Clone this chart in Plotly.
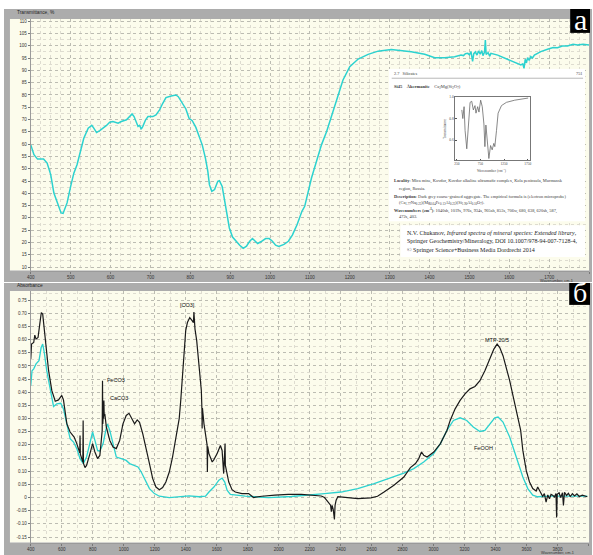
import plotly.graph_objects as go

W, H = 593, 555


def fx(p):
    return p / W


def fy(p):
    return 1 - p / H


# ---------------- panel a: transmittance of the sample, 400-1800 cm-1 ----------------
wn_a = [400, 408, 417, 432, 441, 450, 458, 466, 476, 481, 491, 500, 508, 516, 525, 533,
        544, 553, 558, 565, 573, 582, 590, 598, 606, 619, 627, 640, 648, 654, 659, 665,
        669, 673, 677, 681, 688, 694, 706, 714, 723, 731, 739, 752, 764, 770, 781, 789,
        797, 805, 814, 822, 830, 838, 844, 848, 854, 861, 869, 873, 880, 885, 892, 898,
        906, 915, 924, 933, 941, 949, 956, 963, 969, 977, 989, 998, 1006, 1014, 1022,
        1035, 1046, 1056, 1068, 1080, 1087, 1104, 1117, 1129, 1142, 1150, 1167, 1183,
        1200, 1221, 1246, 1271, 1304, 1329, 1354, 1388, 1413, 1438, 1463, 1479, 1485,
        1490, 1496, 1500, 1504, 1508, 1511, 1515, 1519, 1523, 1527, 1531, 1534, 1538,
        1540, 1542, 1547, 1551, 1554, 1571, 1596, 1613, 1629, 1634, 1637, 1640, 1643,
        1646, 1650, 1654, 1658, 1663, 1679, 1696, 1710, 1721, 1733, 1746, 1760, 1771,
        1785, 1800]
tr_a = [59.7, 55.7, 53.9, 53.9, 52.3, 47.6, 40.1, 36.1, 32.0, 31.8, 36.1, 42.8, 48.2,
        51.6, 57.0, 62.4, 66.5, 67.6, 66.5, 64.7, 65.5, 66.5, 67.6, 68.9, 69.2, 68.5,
        69.2, 69.9, 71.1, 72.3, 71.2, 68.5, 67.2, 67.6, 66.1, 67.2, 69.9, 71.2, 71.2,
        71.9, 73.9, 76.6, 78.9, 79.6, 80.0, 79.3, 76.6, 74.3, 70.5, 69.5, 66.8, 63.0,
        59.7, 54.3, 48.9, 43.5, 40.8, 41.5, 44.9, 45.1, 42.8, 38.1, 31.4, 25.9, 22.2,
        20.5, 18.9, 17.6, 18.5, 20.5, 21.6, 20.5, 19.6, 20.3, 21.6, 21.6, 20.5, 18.9,
        18.4, 19.2, 20.5, 23.0, 27.3, 32.7, 34.7, 46.2, 53.0, 59.7, 65.1, 69.2, 78.0,
        86.1, 91.5, 94.6, 96.5, 97.8, 98.5, 98.2, 97.6, 96.5, 95.1, 95.1, 95.5, 96.2,
        96.0, 96.8, 96.9, 96.3, 97.6, 93.6, 96.8, 97.5, 96.2, 97.9, 96.6, 98.0, 96.0,
        97.4, 102.3, 96.5, 97.2, 95.8, 96.9, 96.2, 94.6, 93.2, 92.2, 92.6, 90.8, 94.5,
        93.0, 95.2, 94.0, 95.6, 95.0, 96.2, 97.6, 98.6, 99.3, 99.2, 99.9, 99.9, 100.6,
        100.3, 100.6, 100.3]
ticks_a_x = list(range(400, 1801, 100))
ticks_a_y = list(range(10, 111, 5))

# ---------------- reference card inset: akermanite spectrum ----------------
wn_ak = [355, 376, 403, 424, 460, 494, 530, 565, 599, 634, 655, 691, 718, 754, 788, 823,
         844, 865, 893, 928, 964, 998, 1033, 1054, 1090, 1124, 1195, 1300, 1474, 1684, 1760]
tr_ak = [0.88, 0.80, 0.91, 0.69, 0.52, 0.75, 0.95, 0.96, 0.88, 0.92, 0.85, 0.91, 0.86,
         0.97, 0.91, 0.75, 0.54, 0.74, 0.57, 0.43, 0.55, 0.51, 0.57, 0.54, 0.69, 0.85,
         0.92, 0.95, 0.97, 0.985, 0.99]
ticks_ak_x = [250, 750, 1250, 1750]
ticks_ak_y = [0.6, 0.8, 1.0]
ticks_ak_y_text = ["0.6", "0.8", "1.0"]

# ---------------- panel б: absorbance, 400-4000 cm-1 ----------------
wn_mtp = [400, 402, 405, 419, 426, 434, 447, 458, 468, 477, 487, 500, 515, 536, 558, 579,
          600, 611, 620, 633, 654, 664, 680, 697, 716, 718, 720, 736, 738, 740, 750, 760,
          782, 799, 814, 831, 846, 857, 861, 863, 865, 867, 870, 872, 874, 878, 888, 910,
          931, 952, 974, 995, 1016, 1034, 1048, 1070, 1087, 1102, 1123, 1144, 1166, 1187,
          1208, 1230, 1251, 1272, 1294, 1315, 1336, 1358, 1368, 1379, 1390, 1400, 1411,
          1426, 1439, 1450, 1453, 1456, 1460, 1471, 1486, 1501, 1505, 1506, 1508, 1518,
          1533, 1538, 1540, 1542, 1550, 1571, 1582, 1603, 1624, 1635, 1645, 1648, 1654,
          1656, 1678, 1699, 1720, 1763, 1806, 1838, 1891, 1976, 2062, 2147, 2211, 2275,
          2296, 2318, 2335, 2340, 2345, 2352, 2357, 2360, 2364, 2371, 2382, 2424, 2510,
          2595, 2638, 2680, 2744, 2808, 2840, 2850, 2883, 2904, 2922, 2936, 2958, 3001,
          3044, 3086, 3107, 3139, 3171, 3203, 3235, 3267, 3299, 3331, 3363, 3389, 3410,
          3427, 3448, 3470, 3491, 3512, 3540, 3562, 3576, 3598, 3619, 3640, 3662, 3672,
          3683, 3694, 3704, 3715, 3726, 3737, 3748, 3758, 3768, 3780, 3790, 3794, 3798,
          3810, 3820, 3832, 3838, 3845, 3858, 3870, 3882, 3896, 3910, 3925, 3940, 3960,
          3975, 3992]
ab_mtp = [0.527, 0.564, 0.583, 0.589, 0.617, 0.602, 0.608, 0.659, 0.703, 0.697, 0.646,
          0.570, 0.482, 0.406, 0.366, 0.371, 0.388, 0.371, 0.331, 0.280, 0.249, 0.242,
          0.230, 0.205, 0.170, 0.236, 0.165, 0.135, 0.293, 0.130, 0.114, 0.122, 0.167,
          0.205, 0.173, 0.148, 0.160, 0.230, 0.255, 0.444, 0.280, 0.305, 0.300, 0.369,
          0.310, 0.318, 0.267, 0.217, 0.192, 0.186, 0.217, 0.280, 0.312, 0.320, 0.305,
          0.280, 0.295, 0.286, 0.242, 0.192, 0.129, 0.072, 0.040, 0.030, 0.038, 0.059,
          0.097, 0.154, 0.230, 0.300, 0.369, 0.457, 0.570, 0.634, 0.665, 0.684, 0.674,
          0.665, 0.705, 0.660, 0.640, 0.596, 0.508, 0.406, 0.330, 0.262, 0.340, 0.280,
          0.217, 0.200, 0.097, 0.195, 0.167, 0.135, 0.144, 0.167, 0.198, 0.179, 0.091,
          0.170, 0.205, 0.122, 0.059, 0.030, 0.021, 0.015, 0.015, 0.000, 0.005, 0.009,
          0.012, 0.012, 0.009, 0.006, 0.000, -0.017, -0.029, -0.054, -0.030, -0.045,
          -0.060, -0.083, -0.030, -0.010, 0.003, 0.000, -0.004, -0.001, 0.005, 0.021,
          0.047, 0.078, 0.104, 0.114, 0.129, 0.148, 0.173, 0.161, 0.154, 0.173, 0.205,
          0.255, 0.293, 0.337, 0.369, 0.394, 0.413, 0.422, 0.444, 0.482, 0.527, 0.564,
          0.583, 0.570, 0.539, 0.495, 0.444, 0.388, 0.320, 0.255, 0.179, 0.103, 0.059,
          0.034, 0.025, 0.040, 0.028, 0.012, 0.005, 0.015, -0.017, 0.010, -0.005, 0.012,
          0.009, 0.002, 0.015, -0.076, 0.012, 0.018, 0.000, 0.018, -0.030, 0.020, 0.008,
          0.016, 0.004, 0.015, 0.006, 0.014, 0.004, 0.009, 0.005, 0.003]

wn_feooh = [400, 408, 419, 434, 453, 467, 477, 487, 503, 525, 547, 568, 594, 611, 633,
            654, 676, 697, 718, 739, 760, 782, 799, 814, 831, 846, 867, 884, 895, 910,
            931, 952, 984, 1016, 1038, 1070, 1092, 1113, 1134, 1166, 1198, 1230, 1294,
            1358, 1422, 1486, 1528, 1550, 1582, 1614, 1635, 1652, 1667, 1688, 1720, 1784,
            1848, 1934, 2083, 2211, 2296, 2403, 2510, 2616, 2723, 2808, 2872, 2936, 3001,
            3044, 3086, 3128, 3171, 3214, 3256, 3299, 3331, 3363, 3395, 3416, 3448, 3491,
            3534, 3576, 3608, 3640, 3672, 3747, 3896, 3992]
ab_feooh = [0.425, 0.482, 0.489, 0.508, 0.520, 0.570, 0.583, 0.552, 0.482, 0.406, 0.346,
            0.356, 0.358, 0.337, 0.274, 0.224, 0.211, 0.186, 0.148, 0.129, 0.154, 0.211,
            0.249, 0.217, 0.179, 0.176, 0.205, 0.255, 0.280, 0.255, 0.198, 0.154, 0.148,
            0.141, 0.129, 0.122, 0.116, 0.097, 0.072, 0.034, 0.015, 0.005, 0.000, 0.003,
            0.006, 0.003, 0.005, 0.021, 0.040, 0.066, 0.074, 0.059, 0.028, 0.012, 0.009,
            0.005, 0.003, 0.000, 0.004, 0.009, 0.015, 0.021, 0.034, 0.053, 0.076, 0.093,
            0.110, 0.135, 0.167, 0.205, 0.255, 0.293, 0.303, 0.293, 0.268, 0.251, 0.255,
            0.280, 0.303, 0.306, 0.287, 0.230, 0.154, 0.078, 0.034, 0.009, 0.003, 0.005,
            0.005, 0.005]
ticks_b_x = list(range(400, 4001, 200))
ticks_b_y = [round(-0.15 + 0.05 * i, 2) for i in range(19)]
ticks_b_y_text = ["0" if v == 0 else f"{v:.2f}" for v in ticks_b_y]

# peak labels (wavenumber, absorbance, text, anchor)
peak_labels = [(1411, 0.732, "[CO3]", "center"),
               (878, 0.447, "FeCO3", "left"),
               (899, 0.377, "CaCO3", "left"),
               (3406, 0.598, "MTP-20/5", "center"),
               (3320, 0.188, "FeOOH", "center")]

CYAN = "#2cd2cf"
CREAM = "#fcfcec"
GRAY = "#acacac"
MAJOR = "#bcbcb2"
MINOR = "#dedcd0"
SANS = "Liberation Sans, Arial, sans-serif"
SERIF = "Liberation Serif, Times New Roman, serif"

fig = go.Figure()

fig.add_trace(go.Scatter(x=wn_a, y=tr_a, mode="lines", xaxis="x", yaxis="y",
                         line=dict(color=CYAN, width=1.5), hoverinfo="skip"))
fig.add_trace(go.Scatter(x=wn_feooh, y=ab_feooh, mode="lines", xaxis="x2", yaxis="y2",
                         line=dict(color=CYAN, width=1.3), hoverinfo="skip"))
fig.add_trace(go.Scatter(x=wn_mtp, y=ab_mtp, mode="lines", xaxis="x2", yaxis="y2",
                         line=dict(color="#1a1a1a", width=1.2), hoverinfo="skip"))

# white card behind the reference-library excerpt (drawn in its own subplot so it
# sits above panel a's grid)
fig.add_trace(go.Scatter(x=[0, 1, 1, 0, 0], y=[0.19, 0.19, 1, 1, 0.19], mode="lines",
                         fill="toself", fillcolor="white", line=dict(width=0),
                         xaxis="x3", yaxis="y3", hoverinfo="skip"))
fig.add_trace(go.Scatter(x=[0.06, 1, 1, 0.06, 0.06], y=[0, 0, 0.169, 0.169, 0], mode="lines",
                         fill="toself", fillcolor="white", line=dict(width=0),
                         xaxis="x3", yaxis="y3", hoverinfo="skip"))
fig.add_trace(go.Scatter(x=wn_ak, y=tr_ak, mode="lines", xaxis="x4", yaxis="y4",
                         line=dict(color="#6a6a6a", width=0.8), hoverinfo="skip"))


def grid_axis(**kw):
    base = dict(showgrid=True, gridcolor=MAJOR, griddash="dot", gridwidth=1,
                zeroline=False, showline=True, linecolor="#9a9a9a", linewidth=1,
                ticks="outside", ticklen=2, tickcolor="#777", tickwidth=1,
                tickfont=dict(family=SANS, size=4.5, color="#333"), fixedrange=True)
    base.update(kw)
    return base


layout = dict(
    width=W, height=H, autosize=False, margin=dict(l=0, r=0, t=0, b=0),
    paper_bgcolor="white", plot_bgcolor="rgba(0,0,0,0)", showlegend=False,
    hovermode=False,
    xaxis=grid_axis(domain=[fx(27), fx(590)], range=[400, 1800], anchor="y",
                    tickmode="array", tickvals=ticks_a_x,
                    minor=dict(dtick=25, tick0=400, showgrid=True, gridcolor=MINOR,
                               griddash="dot", ticks="")),
    yaxis=grid_axis(domain=[fy(269.5), fy(17)], range=[8.6, 110.9], anchor="x",
                    tickmode="array", tickvals=ticks_a_y,
                    minor=dict(dtick=2.5, tick0=10, showgrid=True, gridcolor=MINOR,
                               griddash="dot", ticks="")),
    xaxis2=grid_axis(domain=[fx(27), fx(589.5)], range=[400, 4000], anchor="y2",
                     tickmode="array", tickvals=ticks_b_x,
                     minor=dict(dtick=100, tick0=400, showgrid=True, gridcolor=MINOR,
                                griddash="dot", ticks="")),
    yaxis2=grid_axis(domain=[fy(542.5), fy(290)], range=[-0.171, 0.785], anchor="x2",
                     tickmode="array", tickvals=ticks_b_y, ticktext=ticks_b_y_text,
                     minor=dict(dtick=0.025, tick0=0, showgrid=True, gridcolor=MINOR,
                                griddash="dot", ticks="")),
    xaxis3=dict(domain=[fx(388), fx(586)], range=[0, 1], anchor="y3", visible=False,
                fixedrange=True),
    yaxis3=dict(domain=[fy(256), fy(67)], range=[0, 1], anchor="x3", visible=False,
                fixedrange=True),
    xaxis4=dict(domain=[fx(455), fx(530.5)], range=[214, 1800], anchor="y4",
                showgrid=False, zeroline=False, showline=True, mirror=True,
                linecolor="#555", linewidth=0.8, ticks="inside", ticklen=1.5,
                tickcolor="#555", tickmode="array", tickvals=ticks_ak_x,
                tickfont=dict(family=SERIF, size=3.5, color="#444"), fixedrange=True),
    yaxis4=dict(domain=[fy(158.7), fy(95.3)], range=[0.415, 1.0], anchor="x4",
                showgrid=False, zeroline=False, showline=True, mirror=True,
                linecolor="#555", linewidth=0.8, ticks="inside", ticklen=1.5,
                tickcolor="#555", tickmode="array", tickvals=ticks_ak_y,
                ticktext=ticks_ak_y_text,
                tickfont=dict(family=SERIF, size=3.5, color="#444"), fixedrange=True),
)

# frame: cream plot areas with grey window bands
def rect(x0, y0, x1, y1, color, layer="below"):
    return dict(type="rect", xref="paper", yref="paper", x0=fx(x0), x1=fx(x1),
                y0=fy(y1), y1=fy(y0), fillcolor=color, line=dict(width=0), layer=layer)


shapes = [
    rect(6, 17, 590, 269.5, CREAM),
    rect(6, 290, 590, 542.5, CREAM),
    rect(0, 7, 593, 17, GRAY),
    rect(0, 7, 6, 281, GRAY),
    rect(590, 7, 593, 281, GRAY),
    rect(0, 269.5, 593, 281, GRAY),
    rect(0, 282, 593, 290, GRAY),
    rect(0, 282, 6, 555, GRAY),
    rect(590, 282, 593, 555, GRAY),
    rect(0, 542.5, 593, 555, GRAY),
    rect(571, 7, 591, 31, "black", "above"),
    rect(570, 282, 591, 304, "black", "above"),
    dict(type="line", xref="paper", yref="paper", x0=fx(391), x1=fx(584),
         y0=fy(76.5), y1=fy(76.5), line=dict(color="#888", width=0.6), layer="above"),
]
layout["shapes"] = shapes

annotations = []


def note(text, x, y, size, family=SANS, color="#222", anchor="left", ref=("paper", "paper"),
         angle=0):
    xx, yy = (fx(x), fy(y)) if ref == ("paper", "paper") else (x, y)
    annotations.append(dict(text=text, x=xx, y=yy, xref=ref[0], yref=ref[1],
                            xanchor=anchor, yanchor="middle", showarrow=False,
                            textangle=angle,
                            font=dict(family=family, size=size, color=color)))


# window titles
note("Transmittance, %", 11, 11, 4.8)
note("Absorbance", 11, 285, 4.8)
note("Wavenumber, cm-1", 576, 280, 3.8, anchor="right", color="#333")
note("Wavenumber, cm-1", 577, 552.5, 3.8, anchor="right", color="#333")

# panel letters
note("a", 581, 17.5, 30, family=SERIF, color="white", anchor="center")
note("б", 580.5, 292, 28, family=SERIF, color="white", anchor="center")

# peak labels on panel б
for wn, ab, txt, anc in peak_labels:
    note(txt, wn, ab, 5.5, color="#111", anchor=anc, ref=("x2", "y2"))

# reference-library card
card = "#3a3a3a"
note("2.7&nbsp;&nbsp;&nbsp;Silicates", 391, 72, 4.3, SERIF, card)
note("751", 585, 72, 4.3, SERIF, card, anchor="right")
note("<b>Si45</b>&nbsp;&nbsp;&nbsp;&nbsp;<b>Åkermanite</b>&nbsp;&nbsp;&nbsp;&nbsp;"
     "Ca<sub>2</sub>Mg(Si<sub>2</sub>O<sub>7</sub>)", 391, 85.5, 4.5, SERIF, card)
note("Transmittance", 444, 127, 3.5, SERIF, "#444", anchor="center", angle=-90)
note("Wavenumber (cm<sup>-1</sup>)", 492.5, 169, 3.6, SERIF, "#444", anchor="center")
card_lines = [
    ("<b>Locality</b>: Mica mine, Kovdor, Kovdor alkaline ultramafic complex, Kola peninsula, Murmansk", 391, 180),
    ("region, Russia.", 396, 187.5),
    ("<b>Description</b>: Dark grey coarse-grained aggregate. The empirical formula is (electron microprobe)", 391, 195),
    ("(Ca<sub>1.77</sub>Na<sub>0.23</sub>)(Mg<sub>0.64</sub>Fe<sub>0.13</sub>Al<sub>0.23</sub>)(Si<sub>1.90</sub>Al<sub>0.10</sub>O<sub>7</sub>).", 396, 201.5),
    ("<b>Wavenumbers (cm<sup>-1</sup>)</b>: 1040sh, 1019s, 976s, 934s, 905sh, 853s, 706w, 680, 638, 620sh, 587,", 391, 209),
    ("472s, 403.", 396, 216),
]
for txt, x, y in card_lines:
    note(txt, x, y, 4.4, SERIF, card)

cite = [
    "N.V. Chukanov, <i>Infrared spectra of mineral species: Extended library</i>,",
    "Springer Geochemistry/Mineralogy, DOI 10.1007/978-94-007-7128-4,",
    "© Springer Science+Business Media Dordrecht 2014",
]
for i, txt in enumerate(cite):
    note(txt, 404, 232 + 8.2 * i, 6, SERIF, "#222")

layout["annotations"] = annotations
fig.update_layout(**layout)
fig.write_html("out.html", config={"displayModeBar": False, "staticPlot": True})
